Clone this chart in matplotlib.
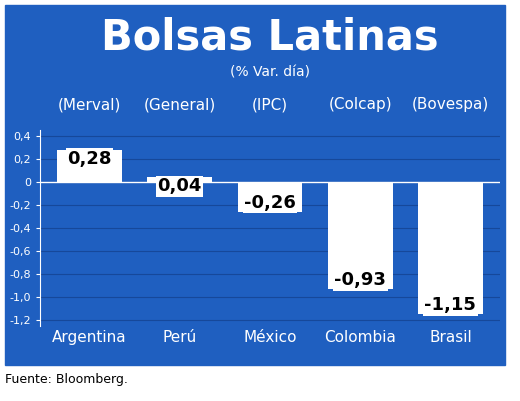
import matplotlib.pyplot as plt
from matplotlib.patches import Rectangle

countries = ["Argentina", "Perú", "México", "Colombia", "Brasil"]
indices = ["(Merval)", "(General)", "(IPC)", "(Colcap)", "(Bovespa)"]
values = [0.28, 0.04, -0.26, -0.93, -1.15]
yticks = [0.4, 0.2, 0, -0.2, -0.4, -0.6, -0.8, -1.0, -1.2]

BLUE = "#1f5fc0"
GRID = "#16489a"
plt.rcParams["font.family"] = ["DejaVu Sans Condensed", "DejaVu Sans"]

W, H = 520, 401
fig = plt.figure(figsize=(W / 100, H / 100), dpi=100)
fig.patches.append(Rectangle((5 / W, 36 / H), 500 / W, 360 / H,
                             transform=fig.transFigure, color=BLUE, zorder=0))

fig.text(270 / W, 363 / H, "Bolsas Latinas", color="white", fontsize=30,
         fontweight="bold", ha="center", va="center")
fig.text(270 / W, 328 / H, "(% Var. día)", color="white", fontsize=10,
         ha="center", va="center")
fig.text(5 / W, 22 / H, "Fuente: Bloomberg.", color="black", fontsize=9,
         ha="left", va="center")

ax = fig.add_axes([40 / W, 75 / H, 460 / W, 196 / H])
ax.set_zorder(2)
ax.patch.set_visible(False)
x = range(len(countries))
ax.bar(x, values, width=0.72, color="white", zorder=3)
ax.set_xlim(-0.55, len(countries) - 0.45)
ax.set_ylim(-1.25, 0.45)
ax.set_yticks(yticks)
ax.set_yticklabels([f"{t:.1f}".replace(".", ",") if t != 0 else "0" for t in yticks],
                   color="white", fontsize=8)
for t in yticks:
    ax.axhline(t, color=GRID, lw=0.8, zorder=1)
ax.axhline(0, color="white", lw=1, zorder=2)
ax.set_xticks([])
for s in ["top", "right", "bottom"]:
    ax.spines[s].set_visible(False)
ax.spines["left"].set_color("white")
ax.tick_params(axis="y", colors="white", length=3)

for i, (c, idx, v) in enumerate(zip(countries, indices, values)):
    ax.text(i, 0.67, idx, color="white", fontsize=11, ha="center", va="center",
            clip_on=False)
    ax.text(i, -1.35, c, color="white", fontsize=11, ha="center", va="center",
            clip_on=False)
    ax.text(i, v, f"{v:.2f}".replace(".", ","),
            color="black", fontsize=13, fontweight="bold", ha="center",
            va="top" if v > 0 else "bottom", zorder=4,
            bbox=dict(facecolor="white", edgecolor="none", pad=1))

fig.savefig("out.png", dpi=100)
